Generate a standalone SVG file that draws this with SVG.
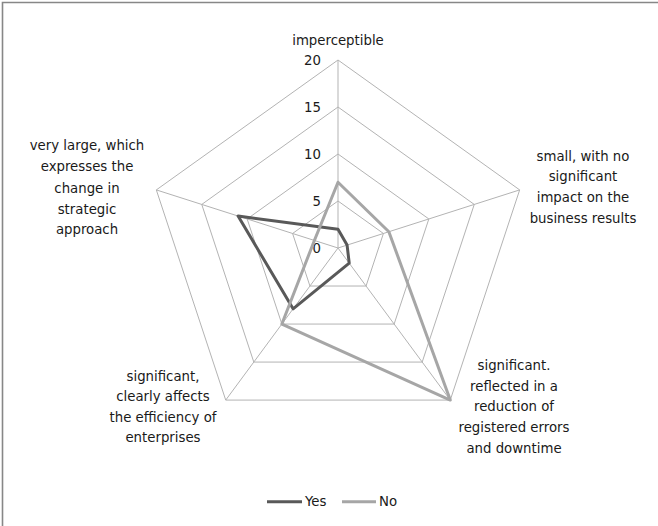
<svg xmlns="http://www.w3.org/2000/svg" width="658" height="526" viewBox="0 0 658 526">
  <style>
    text { font-family: "DejaVu Sans", "Liberation Sans", sans-serif; font-size: 13.3px; fill: #1a1a1a; }
    .lbl { text-anchor: middle; }
    .tick { text-anchor: end; }
    .grid { fill: none; stroke: #b3b3b3; stroke-width: 1; }
    .series { fill: none; stroke-width: 3; stroke-linejoin: round; stroke-linecap: round; }
    .yes { stroke: #595959; }
    .no { stroke: #a6a6a6; }
  </style>

  <rect x="0" y="0" width="658" height="526" fill="#ffffff"/>
  <!-- chart frame (top and left edges) -->
  <path d="M2.5 526 V2.5 H658" fill="none" stroke="#878787" stroke-width="1.6"/>

  <!-- radar grid: rings at 5, 10, 15, 20 and the five spokes -->
  <g id="grid">
    <polygon class="grid" points="338,60 519.66,189.91 450.27,400.09 225.73,400.09 156.34,189.91"/>
    <polygon class="grid" points="338,107 474.25,204.43 422.2,362.07 253.8,362.07 201.75,204.43"/>
    <polygon class="grid" points="338,154 428.83,218.96 394.14,324.05 281.87,324.05 247.17,218.96"/>
    <polygon class="grid" points="338,201 383.42,233.48 366.07,286.02 309.93,286.02 292.59,233.48"/>
    <path class="grid" d="M338 248 L338 60 M338 248 L519.66 189.91 M338 248 L450.27 400.09 M338 248 L225.73 400.09 M338 248 L156.34 189.91"/>
  </g>

  <!-- value scale -->
  <g id="scale">
    <text class="tick" x="321" y="65">20</text>
    <text class="tick" x="321" y="112">15</text>
    <text class="tick" x="321" y="159">10</text>
    <text class="tick" x="321" y="206">5</text>
    <text class="tick" x="321" y="253">0</text>
  </g>

  <!-- data series -->
  <g id="connectors">
    <polygon id="series-yes" class="series yes" points="338,229.2 347.08,245.1 349.23,263.21 293.09,308.84 238.09,216.05"/>
    <polygon id="series-no" class="series no" points="338,182.2 388.86,231.73 450.27,400.09 281.87,324.05 314.38,240.45"/>
  </g>

  <!-- axis categories -->
  <g id="axis-imperceptible">
    <text class="lbl" x="338" y="45">imperceptible</text>
  </g>
  <g id="axis-small">
    <text class="lbl" x="583" y="161">small, with no</text>
    <text class="lbl" x="583" y="181">significant</text>
    <text class="lbl" x="583" y="202">impact on the</text>
    <text class="lbl" x="583" y="222.5">business results</text>
  </g>
  <g id="axis-significant-reduction">
    <text class="lbl" x="514" y="370">significant.</text>
    <text class="lbl" x="514" y="390.5">reflected in a</text>
    <text class="lbl" x="514" y="411">reduction of</text>
    <text class="lbl" x="514" y="432">registered errors</text>
    <text class="lbl" x="514" y="452.5">and downtime</text>
  </g>
  <g id="axis-significant-efficiency">
    <text class="lbl" x="163" y="381">significant,</text>
    <text class="lbl" x="163" y="401">clearly affects</text>
    <text class="lbl" x="163" y="421.5">the efficiency of</text>
    <text class="lbl" x="163" y="441.5">enterprises</text>
  </g>
  <g id="axis-very-large">
    <text class="lbl" x="87" y="150">very large, which</text>
    <text class="lbl" x="87" y="171">expresses the</text>
    <text class="lbl" x="87" y="192.5">change in</text>
    <text class="lbl" x="87" y="213.5">strategic</text>
    <text class="lbl" x="87" y="234">approach</text>
  </g>

  <!-- legend -->
  <g id="legend">
    <line x1="267" y1="501.7" x2="302" y2="501.7" stroke="#595959" stroke-width="3"/>
    <text x="305" y="506">Yes</text>
    <line x1="342" y1="501.7" x2="376" y2="501.7" stroke="#a6a6a6" stroke-width="3"/>
    <text x="379" y="506">No</text>
  </g>
</svg>
